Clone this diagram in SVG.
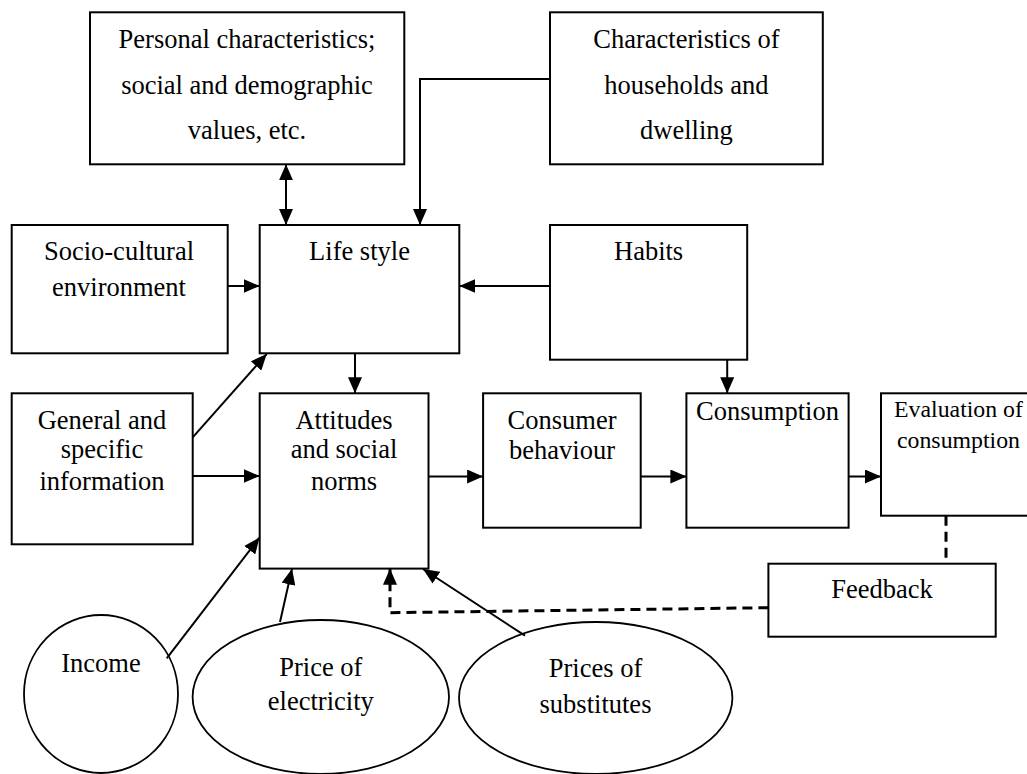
<svg xmlns="http://www.w3.org/2000/svg" width="1027" height="774" viewBox="0 0 1027 774">
<style>
.box{fill:#fff;stroke:#000;stroke-width:2}
.ell{fill:#fff;stroke:#000;stroke-width:1.8}
.t{font-family:"Liberation Serif","Times New Roman",serif;font-size:26.5px;fill:#000;text-anchor:middle}
.ts{font-size:23.8px}
.c{fill:none;stroke:#000;stroke-width:2}
.d{fill:none;stroke:#000;stroke-width:3;stroke-dasharray:10 6}
</style>
<defs>
<marker id="ah" markerUnits="userSpaceOnUse" markerWidth="16" markerHeight="14" viewBox="0 0 16 14" refX="16" refY="7" orient="auto-start-reverse">
<path d="M0,0 L16,7 L0,14 z" fill="#000"/>
</marker>
</defs>
<rect width="1027" height="774" fill="#fff"/>
<g id="personal"><rect class="box" x="90" y="12.3" width="314.3" height="152"/>
<text class="t" x="247" y="48.3">Personal characteristics;</text>
<text class="t" x="247" y="94">social and demographic</text>
<text class="t" x="247" y="139.3">values, etc.</text></g>
<g id="characteristics"><rect class="box" x="550" y="12.3" width="272.8" height="152"/>
<text class="t" x="686.4" y="48.3">Characteristics of</text>
<text class="t" x="686.4" y="94">households and</text>
<text class="t" x="686.4" y="139.3">dwelling</text></g>
<g id="socio"><rect class="box" x="11.7" y="225" width="216" height="128.3"/>
<text class="t" x="119" y="260">Socio-cultural</text>
<text class="t" x="119" y="296">environment</text></g>
<g id="lifestyle"><rect class="box" x="259.7" y="225" width="199.6" height="128.3"/>
<text class="t" x="359.5" y="260">Life style</text></g>
<g id="habits"><rect class="box" x="550" y="225" width="197.2" height="134.7"/>
<text class="t" x="648.6" y="260">Habits</text></g>
<g id="general"><rect class="box" x="11.7" y="393.3" width="181" height="151"/>
<text class="t" x="102" y="429">General and</text>
<text class="t" x="102" y="458.3">specific</text>
<text class="t" x="102" y="490">information</text></g>
<g id="attitudes"><rect class="box" x="259.7" y="393.3" width="168.8" height="175.3"/>
<text class="t" x="344" y="429">Attitudes</text>
<text class="t" x="344" y="458.3">and social</text>
<text class="t" x="344" y="489.5">norms</text></g>
<g id="behaviour"><rect class="box" x="483.1" y="393.3" width="157.6" height="134.4"/>
<text class="t" x="562" y="429">Consumer</text>
<text class="t" x="562" y="459">behaviour</text></g>
<g id="consumption"><rect class="box" x="686.4" y="393.3" width="162.2" height="134.4"/>
<text class="t" x="767.5" y="420">Consumption</text></g>
<g id="evaluation"><rect class="box" x="881" y="393.3" width="160" height="122.4"/>
<text class="t ts" x="958.5" y="416.5">Evaluation of</text>
<text class="t ts" x="958.5" y="448.3">consumption</text></g>
<g id="feedback"><rect class="box" x="768.4" y="563.7" width="227.3" height="73"/>
<text class="t" x="882" y="598.3">Feedback</text></g>
<g id="income"><ellipse class="ell" cx="101" cy="694" rx="77" ry="79"/>
<text class="t" x="101" y="671.7">Income</text></g>
<g id="electricity"><ellipse class="ell" cx="320.8" cy="697" rx="128.2" ry="77"/>
<text class="t" x="320.8" y="676">Price of</text>
<text class="t" x="320.8" y="710">electricity</text></g>
<g id="substitutes"><ellipse class="ell" cx="595.7" cy="698" rx="136.7" ry="76"/>
<text class="t" x="595.5" y="676.7">Prices of</text>
<text class="t" x="595.5" y="712.7">substitutes</text></g>
<g id="connectors">
<path class="c" d="M286,164.3 L286,225" marker-start="url(#ah)" marker-end="url(#ah)"/>
<path class="c" d="M550,79 L420,79 L420,225" marker-end="url(#ah)"/>
<path class="c" d="M227.7,286 L259.7,286" marker-end="url(#ah)"/>
<path class="c" d="M550,286 L459.3,286" marker-end="url(#ah)"/>
<path class="c" d="M355,353.3 L355,393.3" marker-end="url(#ah)"/>
<path class="c" d="M727.2,359.7 L727.2,393.3" marker-end="url(#ah)"/>
<path class="c" d="M192.7,437.3 L266.7,354" marker-end="url(#ah)"/>
<path class="c" d="M192.7,476 L259.7,476" marker-end="url(#ah)"/>
<path class="c" d="M428.5,476.5 L483.1,476.5" marker-end="url(#ah)"/>
<path class="c" d="M640.7,476.5 L686.4,476.5" marker-end="url(#ah)"/>
<path class="c" d="M848.6,476.5 L881,476.5" marker-end="url(#ah)"/>
<path class="d" d="M946,515.7 L946,563.7"/>
<path class="d" d="M768.4,607.7 L390,612.7 L390,568.7" marker-end="url(#ah)"/>
<path class="c" d="M166.7,658.3 L259.5,537.5" marker-end="url(#ah)"/>
<path class="c" d="M280,622 L292,568.7" marker-end="url(#ah)"/>
<path class="c" d="M525,635.7 L423,569" marker-end="url(#ah)"/>
</g>
</svg>
